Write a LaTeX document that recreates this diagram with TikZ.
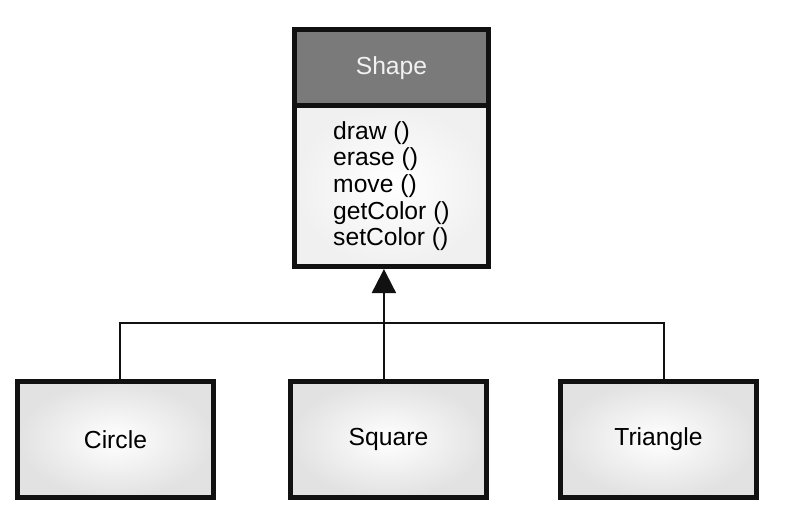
\documentclass[tikz,border=0pt]{standalone}
\usepackage{fontspec}
\setmainfont{Liberation Sans}
\usetikzlibrary{arrows.meta, positioning}
\definecolor{ink}{HTML}{111111}
\definecolor{headbg}{HTML}{7A7A7A}
\definecolor{headtext}{HTML}{F2F2F2}
\definecolor{bodybg}{HTML}{F0F0F0}
\definecolor{edgebg}{HTML}{E2E2E2}
\tikzset{
  box/.style={
    draw=ink,
    line width=3.75pt,
    outer sep=0pt,
    inner sep=0pt,
    font=\fontsize{18.5}{20}\selectfont
  },
  classhead/.style={box, fill=headbg, text=headtext, minimum width=145.5pt, minimum height=57.4pt},
  classbody/.style={box, inner color=white, outer color=bodybg, align=left, minimum width=145.5pt, minimum height=120.4pt},
  subclass/.style={box, inner color=white, outer color=edgebg, minimum width=147pt, minimum height=87pt},
  link/.style={draw=ink, line width=1.6pt},
  inherit/.style={link, -{Triangle[width=18pt, length=18pt]}, shorten >=1.9pt}
}
\begin{document}
\begin{tikzpicture}

\useasboundingbox (-293.6pt,50.8pt) rectangle (303.4pt,-341.45pt);

\node[classhead] (shape) at (0,0) {Shape};

\node[classbody, below=0pt of shape] (methods) {
  draw ()\\
  erase ()\\
  move ()\\
  getColor ()\\
  setColor ()
};

\node[subclass, below=86.25pt of methods, xshift=-2.25pt] (square) {Square};

\node[subclass, left=57.75pt of square] (circle) {Circle};

\node[subclass, right=55.5pt of square] (triangle) {Triangle};

\coordinate (squaretop) at ([xshift=-3.4pt]square.north);
\coordinate (circletop) at ([xshift=3.4pt]circle.north);
\coordinate (triangletop) at ([xshift=4.1pt]triangle.north);

\draw[link] (circletop) -- ++(0,44pt) -| (triangletop);
\draw[inherit] (squaretop) -- (squaretop |- methods.south);

\end{tikzpicture}
\end{document}
